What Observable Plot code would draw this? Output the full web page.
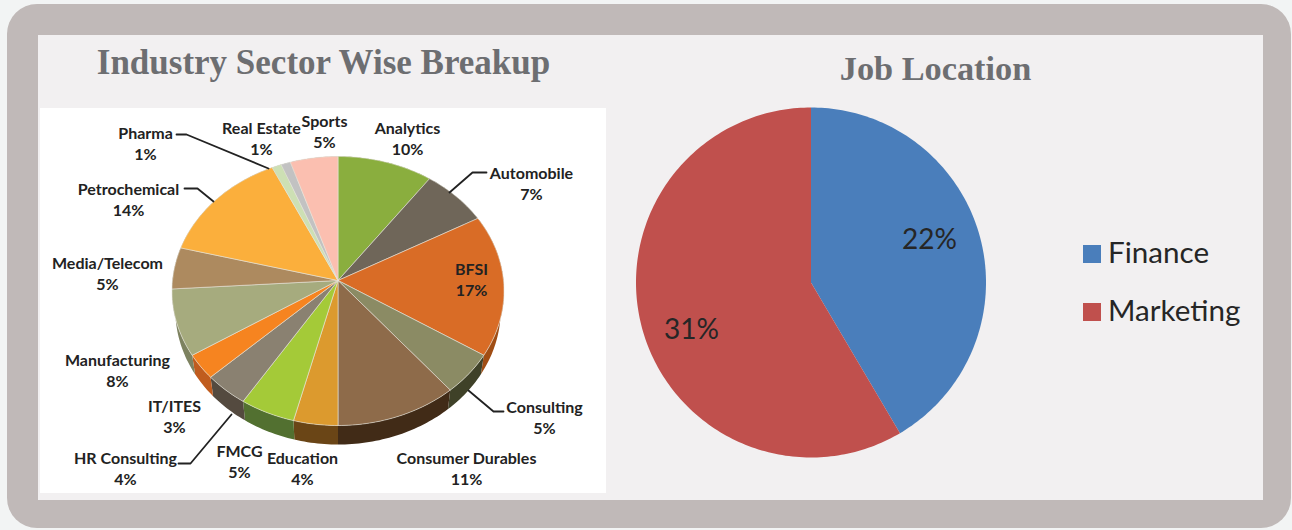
<!DOCTYPE html>
<html>
<head>
<meta charset="utf-8">
<title>Industry sector and job location</title>
<script src="https://cdn.jsdelivr.net/npm/d3@7"></script>
<script src="https://cdn.jsdelivr.net/npm/@observablehq/plot@0.6"></script>
<style>
  html, body { margin: 0; padding: 0; width: 1292px; height: 530px; overflow: hidden; background: #f2f4f4; }
  .frame { position: absolute; left: 7px; top: 4px; width: 1284px; height: 524px; border-radius: 30px; background: #c0b9b8; }
  .panel { position: absolute; left: 38px; top: 35px; width: 1225px; height: 465px; background: #f2f0f1; }
  .inset { position: absolute; left: 40px; top: 108px; width: 566px; height: 385px; background: #fff; }
  h2 { position: absolute; margin: 0; font: bold 35px "Liberation Serif", serif; color: #6d6e71; white-space: nowrap; transform: translate(-50%, -50%); }
  .key { position: absolute; left: 1083px; width: 18px; height: 18px; }
  .keytext { position: absolute; left: 1108px; font: 29.6px Lato, sans-serif; color: #262626; line-height: 32px; }
  #chart { position: absolute; left: 0; top: 0; }
</style>
</head>
<body>
<div class="frame"></div>
<div class="panel"></div>
<div class="inset"></div>
<h2 style="left:323.5px;top:63px">Industry Sector Wise Breakup</h2>
<h2 style="left:935.5px;top:68px;font-size:34.3px">Job Location</h2>
<div id="legend"></div>
<div id="chart"></div>
<script>
// Sector shares, clockwise from twelve o'clock
const sectors = ["Analytics", "Automobile", "BFSI", "Consulting", "Consumer Durables", "Education", "FMCG",
  "HR Consulting", "IT/ITES", "Manufacturing", "Media/Telecom", "Petrochemical", "Pharma", "Real Estate", "Sports"];
const sectorShares = [10, 7, 17, 5, 11, 4, 5, 4, 3, 8, 5, 14, 1, 1, 5];

// Job location shares
const locations = ["Finance", "Marketing"];
const locationShares = [22, 31];

// Slice colours: top face and rim
const sectorFaces = ["#8aae3e", "#6f6659", "#d96c26", "#8b8b64", "#8e6b4a", "#dc9a2e", "#a4ca38",
  "#8a8171", "#f68420", "#a6ab7e", "#ad8a5f", "#fbaf3c", "#cde0b4", "#c2c2c2", "#fbbfb0"];
const sectorRims = ["#5f7a2a", "#4e473e", "#a04d14", "#3f4128", "#412b17", "#6a4516", "#527030",
  "#544a3f", "#c05c1e", "#7d8260", "#7a6042", "#b07a2a", "#90a07e", "#888888", "#b08578"];
const locationFills = ["#4a7ebb", "#c0504d"];

// Label placement per sector: centre of the two-line label
const sectorLabelX = [407, 531, 471, 544, 466, 302, 239, 125, 174, 117, 107, 128, 145, 261, 324];
const sectorLabelY = [137, 182, 278, 416, 467, 467, 460, 467, 415, 369, 272, 198, 142, 137, 130];
const locationLabelX = [929, 691];
const locationLabelY = [240, 330];

// Leader lines running from labels to slices
const leaders = [
  {name: "Pharma", path: [[176, 134], [186, 134], [268, 168]]},
  {name: "Petrochemical", path: [[184, 188], [197, 188], [213, 201]]},
  {name: "Automobile", path: [[486, 172], [472, 172], [449, 192]]},
  {name: "Consulting", path: [[468, 390], [493, 411], [503, 411]]},
  {name: "HR Consulting", path: [[178, 463], [190, 463], [231, 414]]}
];

// Tilted pie: circle angles pass through a perspective projection
const tilted = {cx: 337.5, cy: 280, a: 165.5, b: 133.7, p: 0.078, depth: 19, rimShrink: 0.98};
const project = (t) => {
  const w = 1 + tilted.p * Math.cos(t);
  return [tilted.cx + tilted.a * Math.sin(t) / w, tilted.cy - tilted.b * Math.cos(t) / w];
};

const arcAngles = (start, end) => {
  const n = Math.max(2, Math.ceil((end - start) / 0.02));
  return d3.range(n + 1).map((i) => start + (end - start) * i / n);
};

const cumulate = (values) => {
  const total = d3.sum(values);
  let run = 0;
  return values.map((v) => {
    const start = run / total * 2 * Math.PI;
    run += v;
    return [start, run / total * 2 * Math.PI];
  });
};

const sectorSpans = cumulate(sectorShares);

const faces = sectorSpans.flatMap(([s, e], i) =>
  [[tilted.cx, tilted.cy], ...arcAngles(s, e).map(project), [tilted.cx, tilted.cy]]
    .map(([x, y]) => ({x, y, key: sectors[i], fill: sectorFaces[i]})));

// The far rim sits lower and slightly narrower, so the wall tapers away at the sides
const rims = sectorSpans.flatMap(([s, e], i) => {
  const rim = arcAngles(s, e).map(project);
  const lower = rim
    .map(([x, y]) => [tilted.cx + (x - tilted.cx) * tilted.rimShrink, y + tilted.depth])
    .reverse();
  return [...rim, ...lower, rim[0]].map(([x, y]) => ({x, y, key: sectors[i], fill: sectorRims[i]}));
});

// Flat pie for job location
const flat = {cx: 810.5, cy: 282, r: 175};
const flatSlices = cumulate(locationShares).flatMap(([s, e], i) =>
  [[flat.cx, flat.cy],
   ...arcAngles(s, e).map((t) => [flat.cx + flat.r * Math.sin(t), flat.cy - flat.r * Math.cos(t)]),
   [flat.cx, flat.cy]]
    .map(([x, y]) => ({x, y, key: locations[i], fill: locationFills[i]})));

const leaderPoints = leaders.flatMap((l) => l.path.map(([x, y]) => ({x, y, key: l.name})));

const chart = Plot.plot({
  width: 1292,
  height: 530,
  margin: 0,
  x: {domain: [0, 1292], range: [0, 1292], axis: null},
  y: {domain: [0, 530], range: [0, 530], axis: null},
  color: {type: "identity"},
  style: {background: "transparent"},
  marks: [
    Plot.line(rims, {x: "x", y: "y", z: "key", fill: "fill", stroke: "none"}),
    Plot.line(faces, {x: "x", y: "y", z: "key", fill: "fill", stroke: "#e6e4da", strokeWidth: 0.6}),
    Plot.line(leaderPoints, {x: "x", y: "y", z: "key", stroke: "#222", strokeWidth: 1.8}),
    Plot.text(sectors, {
      x: (d, i) => sectorLabelX[i],
      y: (d, i) => sectorLabelY[i],
      text: (d, i) => `${d}\n${sectorShares[i]}%`,
      fontFamily: "Lato, sans-serif",
      fontWeight: 700,
      fontSize: 16,
      lineHeight: 1.33,
      fill: "#222"
    }),
    Plot.line(flatSlices, {x: "x", y: "y", z: "key", fill: "fill", stroke: "none"}),
    Plot.text(locations, {
      x: (d, i) => locationLabelX[i],
      y: (d, i) => locationLabelY[i],
      text: (d, i) => `${locationShares[i]}%`,
      fontFamily: "Lato, sans-serif",
      fontSize: 28,
      fill: "#262626"
    })
  ]
});
document.getElementById("chart").append(chart);

// Legend for the job location pie
const legend = document.getElementById("legend");
locations.forEach((name, i) => {
  const top = 245 + i * 58;
  const key = document.createElement("div");
  key.className = "key";
  key.style.top = `${top}px`;
  key.style.background = locationFills[i];
  const label = document.createElement("div");
  label.className = "keytext";
  label.style.top = `${top - 9}px`;
  label.textContent = name;
  legend.append(key, label);
});
</script>
</body>
</html>
